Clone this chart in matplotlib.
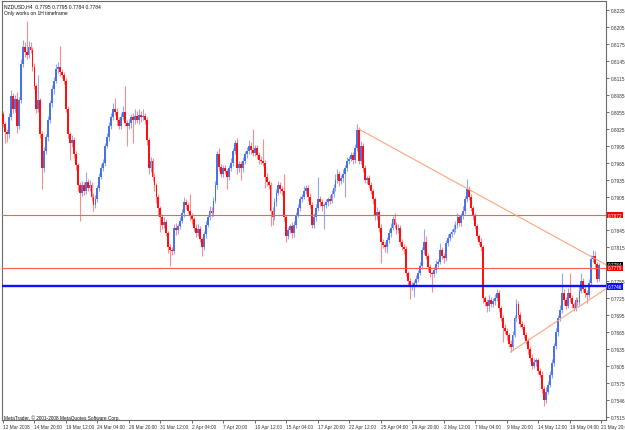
import numpy as np
import matplotlib
matplotlib.use('Agg')
import matplotlib.pyplot as plt
import matplotlib.transforms as mtransforms

# Data: NZDUSD H4 candles, prices in pips (8033 -> 0.8033), open = previous close
first_open = 8051
close_pips = [
    8033, 8020, 8015, 8045, 8083, 8060, 8078, 8030, 8075, 8140, 8170, 8160, 8155, 8170, 8165, 8135,
    8100, 8060, 8075, 8015, 7955, 7985, 8010, 8040, 8070, 8095, 8110, 8130, 8135, 8125, 8120, 8110,
    8060, 8015, 8000, 8005, 7980, 7960, 7925, 7912, 7925, 7915, 7930, 7920, 7925, 7905, 7890, 7900,
    7920, 7940, 7955, 7965, 7995, 8010, 8030, 8045, 8060, 8055, 8040, 8030, 8045, 8055, 8035, 8030,
    8035, 8045, 8040, 8048, 8040, 8050, 8045, 8048, 8040, 8005, 7955, 7968, 7940, 7925, 7905, 7885,
    7868, 7855, 7860, 7840, 7815, 7810, 7808, 7850, 7845, 7852, 7862, 7875, 7895, 7890, 7880, 7870,
    7865, 7850, 7840, 7848, 7830, 7815, 7838, 7855, 7868, 7880, 7875, 7897, 7925, 7980, 7958, 7945,
    7955, 7950, 7940, 7955, 7965, 7985, 8000, 7955, 7962, 7955, 7968, 7980, 7985, 7995, 7988, 7982,
    7990, 7978, 7970, 7968, 7965, 7940, 7930, 7925, 7880, 7868, 7895, 7912, 7925, 7918, 7915, 7868,
    7835, 7845, 7852, 7840, 7855, 7872, 7885, 7900, 7905, 7915, 7920, 7905, 7890, 7855, 7868, 7885,
    7900, 7895, 7888, 7890, 7895, 7900, 7897, 7910, 7920, 7935, 7945, 7932, 7937, 7945, 7955, 7968,
    7972, 7978, 7970, 7990, 8022, 7968, 7995, 7955, 7935, 7938, 7925, 7915, 7900, 7870, 7878, 7850,
    7825, 7820, 7815, 7828, 7840, 7850, 7865, 7855, 7845, 7850, 7825, 7815, 7812, 7770, 7755, 7745,
    7748, 7752, 7760, 7770, 7782, 7810, 7825, 7800, 7780, 7770, 7768, 7775, 7785, 7790, 7810, 7800,
    7796, 7822, 7832, 7838, 7842, 7848, 7855, 7868, 7858, 7870, 7880, 7900, 7918, 7905, 7885, 7870,
    7852, 7835, 7825, 7815, 7725, 7718, 7712, 7722, 7715, 7720, 7725, 7735, 7708, 7690, 7672, 7668,
    7660, 7645, 7638, 7660, 7690, 7715, 7695, 7680, 7675, 7660, 7650, 7635, 7620, 7605, 7612, 7615,
    7597, 7590, 7565, 7545, 7560, 7572, 7590, 7610, 7640, 7665, 7690, 7705, 7735, 7722, 7712, 7735,
    7725, 7715, 7708, 7722, 7718, 7738, 7755, 7742, 7735, 7730, 7752, 7795, 7800, 7785, 7760, 7784,
]
up_wick = [
    6, 4, 5, 8, 10, 5, 7, 12, 6, 9, 12, 8, 56, 10, 8, 5,
    6, 4, 45, 5, 6, 8, 5, 7, 6, 8, 6, 10, 8, 36, 6, 5,
    4, 6, 5, 8, 6, 5, 4, 6, 8, 6, 18, 6, 10, 5, 6, 8,
    5, 6, 8, 6, 5, 8, 6, 7, 10, 20, 6, 5, 8, 10, 46, 5,
    8, 6, 7, 12, 8, 10, 6, 12, 5, 6, 4, 7, 5, 6, 4, 5,
    4, 6, 8, 5, 4, 6, 5, 6, 8, 5, 6, 8, 10, 6, 5, 30,
    5, 4, 6, 8, 5, 4, 6, 7, 5, 8, 6, 7, 8, 6, 10, 5,
    6, 5, 4, 6, 8, 6, 5, 8, 6, 5, 7, 6, 8, 10, 6, 36,
    7, 6, 5, 6, 39, 5, 6, 4, 5, 6, 8, 6, 8, 6, 5, 30,
    4, 6, 5, 8, 6, 5, 7, 6, 5, 8, 6, 5, 6, 5, 8, 6,
    40, 6, 5, 4, 6, 5, 8, 6, 7, 10, 8, 5, 6, 8, 6, 7,
    5, 6, 5, 8, 11, 6, 8, 5, 6, 4, 5, 6, 4, 5, 8, 4,
    6, 5, 4, 6, 7, 8, 6, 10, 5, 6, 5, 4, 6, 5, 4, 6,
    5, 6, 7, 5, 8, 6, 23, 10, 5, 6, 4, 6, 8, 5, 12, 6,
    5, 6, 7, 5, 6, 8, 6, 7, 5, 6, 8, 6, 18, 6, 5, 4,
    6, 5, 4, 6, 5, 4, 6, 8, 5, 6, 7, 6, 5, 4, 6, 8,
    5, 4, 6, 8, 6, 9, 5, 6, 4, 5, 6, 4, 5, 6, 7, 5,
    4, 5, 6, 4, 8, 6, 7, 8, 6, 7, 6, 8, 35, 6, 5, 8,
    35, 5, 4, 6, 5, 8, 15, 6, 5, 4, 8, 6, 10, 8, 5, 3,
]
dn_wick = [
    5, 20, 14, 6, 5, 8, 5, 12, 6, 5, 6, 8, 6, 5, 6, 8,
    5, 8, 6, 6, 37, 6, 5, 7, 5, 6, 8, 5, 6, 7, 5, 6,
    5, 6, 30, 8, 6, 8, 10, 50, 6, 8, 5, 6, 5, 8, 10, 6,
    5, 6, 4, 5, 6, 5, 7, 6, 5, 6, 8, 5, 6, 5, 6, 35,
    6, 8, 40, 6, 5, 6, 8, 5, 6, 8, 10, 6, 8, 10, 12, 15,
    26, 8, 6, 5, 10, 28, 6, 5, 8, 6, 5, 4, 6, 7, 5, 6,
    8, 6, 7, 5, 6, 15, 5, 6, 4, 5, 6, 5, 4, 6, 8, 6,
    5, 6, 22, 5, 4, 6, 5, 10, 6, 20, 6, 5, 6, 5, 7, 6,
    5, 6, 8, 5, 6, 20, 7, 6, 27, 13, 5, 6, 5, 6, 8, 6,
    10, 6, 5, 8, 6, 5, 4, 6, 5, 4, 6, 8, 5, 6, 5, 6,
    5, 6, 8, 40, 5, 6, 5, 4, 6, 5, 6, 8, 5, 6, 40, 5,
    6, 5, 8, 6, 5, 6, 5, 7, 6, 8, 5, 6, 8, 7, 6, 8,
    38, 6, 8, 10, 5, 6, 4, 6, 7, 5, 6, 5, 8, 6, 8, 21,
    6, 20, 5, 6, 4, 5, 6, 5, 6, 8, 32, 5, 6, 5, 4, 6,
    8, 5, 4, 6, 5, 4, 6, 5, 6, 5, 4, 6, 5, 6, 5, 6,
    5, 6, 5, 6, 8, 6, 12, 10, 6, 5, 6, 5, 8, 6, 24, 6,
    8, 6, 8, 5, 4, 6, 5, 6, 5, 6, 5, 8, 6, 5, 4, 6,
    6, 5, 8, 10, 6, 5, 4, 6, 5, 4, 6, 5, 6, 8, 6, 5,
    6, 8, 6, 5, 6, 5, 4, 6, 8, 14, 5, 6, 5, 8, 6, 4,
]

x_labels = ['12 Mar 2008', '14 Mar 20:00', '19 Mar 12:00', '24 Mar 04:00', '26 Mar 20:00',
            '31 Mar 12:00', '2 Apr 04:00', '7 Apr 20:00', '10 Apr 12:00', '15 Apr 04:00',
            '17 Apr 20:00', '22 Apr 12:00', '25 Apr 04:00', '29 Apr 20:00', '2 May 12:00',
            '7 May 04:00', '9 May 20:00', '14 May 12:00', '19 May 04:00', '21 May 20:00']
y_ticks = [0.8235, 0.8205, 0.8175, 0.8145, 0.8115, 0.8085, 0.8055, 0.8025, 0.7995, 0.7965,
           0.7935, 0.7905, 0.7845, 0.7815, 0.7755, 0.7725, 0.7695, 0.7665, 0.7635, 0.7605,
           0.7575, 0.7545, 0.7515]
y_tick_labels = ['0.8235', '0.8205', '0.8175', '0.8145', '0.8115', '0.8085', '0.8055', '0.8025',
                 '0.7995', '0.7965', '0.7935', '0.7905', '0.7845', '0.7815', '0.7755', '0.7725',
                 '0.7695', '0.7665', '0.7635', '0.7605', '0.7575', '0.7546', '0.7515']

red_levels = [0.7872, 0.7779]
blue_level = 0.7746
last_price = 0.7784
trend_down = [(181, 0.8024), (236, 0.7919)]
trend_up = [(258, 0.7630), (297, 0.7720)]
header = 'NZDUSD,H4  0.7795 0.7795 0.7784 0.7784'
note = 'Only works on 1H timeframe'
footer = 'MetaTrader, \u00a9 2001-2008 MetaQuotes Software Corp.'

# Candles
closes = np.array(close_pips) / 10000
opens = np.r_[first_open, close_pips[:-1]] / 10000
highs = np.maximum(opens, closes) + np.array(up_wick) / 10000
lows = np.minimum(opens, closes) - np.array(dn_wick) / 10000
idx = np.arange(len(closes))
bull = closes >= opens

W, H = 625, 431
fig = plt.figure(figsize=(W / 100, H / 100), dpi=100)
fig.patch.set_facecolor('white')
ax = fig.add_axes([2 / W, 10 / H, 604 / W, 419 / H])
plt.rcParams['font.family'] = 'Liberation Sans'

ax.vlines(idx[bull], lows[bull], highs[bull], color='#92a9f2', lw=0.8, zorder=2)
ax.vlines(idx[~bull], lows[~bull], highs[~bull], color='#ff8c8c', lw=0.8, zorder=2)
body = np.maximum(np.abs(closes - opens), 0.00012)
ax.bar(idx[bull], body[bull], bottom=np.minimum(opens, closes)[bull], width=0.95,
       color='#4a72e6', linewidth=0, zorder=3)
ax.bar(idx[~bull], body[~bull], bottom=np.minimum(opens, closes)[~bull], width=0.95,
       color='#ff1010', linewidth=0, zorder=3)

xmin, xmax = -0.5, 306.5

# Horizontal levels
for lv in red_levels:
    ax.axhline(lv, color='#ff5a5a', lw=0.8, zorder=4)
ax.axhline(blue_level, color='#1010ff', lw=1.7, zorder=4)

# Trend lines drawn as rays to the right edge
for (x0, y0), (x1, y1) in (trend_down, trend_up):
    slope = (y1 - y0) / (x1 - x0)
    ax.plot([x0, xmax], [y0, y0 + slope * (xmax - x0)], color='#ffa47c', lw=0.8, zorder=4)

ax.set_xlim(xmin, xmax)
ax.set_ylim(0.75097, 0.82509)

# Axes styling
for s in ax.spines.values():
    s.set_color('#6a6a6a')
    s.set_linewidth(0.8)
ax.yaxis.tick_right()
ax.set_yticks(y_ticks)
ax.set_yticklabels(y_tick_labels, fontsize=3.4, color='#333333', family='Liberation Sans')
ax.tick_params(axis='y', length=2.2, width=0.6, pad=1.2, colors='#555555', labelcolor='#333333')
ax.set_xticks(np.arange(len(x_labels)) * 16)
ax.set_xticklabels(x_labels, fontsize=3.4, color='#333333', ha='left', family='Liberation Sans')
ax.tick_params(axis='x', length=2.2, width=0.6, pad=1.0, colors='#555555', labelcolor='#333333')

# Price labels on the right axis
tr = mtransforms.blended_transform_factory(ax.transAxes, ax.transData)
ax.text(1.003, last_price, '%.4f' % last_price, transform=tr, fontsize=3.4, color='white',
        va='center', ha='left', bbox=dict(facecolor='black', edgecolor='none', pad=0.5), zorder=6)
for lv in red_levels:
    ax.text(1.003, lv, '%.4f' % lv, transform=tr, fontsize=3.4, color='white', va='center',
            ha='left', bbox=dict(facecolor='#ff0000', edgecolor='none', pad=0.5), zorder=7)
ax.text(1.003, blue_level, '%.4f' % blue_level, transform=tr, fontsize=3.4, color='white',
        va='center', ha='left', bbox=dict(facecolor='#1010ff', edgecolor='none', pad=0.5), zorder=7)

# Texts
fig.text(4 / W, 1 - 7 / H, header, fontsize=3.6, va='center', ha='left', color='#111111')
fig.text(4 / W, 1 - 14 / H, note, fontsize=3.6, va='center', ha='left', color='#111111')
fig.text(4 / W, 1 - 418 / H, footer, fontsize=3.4, va='center', ha='left', color='#111111')

fig.savefig('out.png', dpi=100)
